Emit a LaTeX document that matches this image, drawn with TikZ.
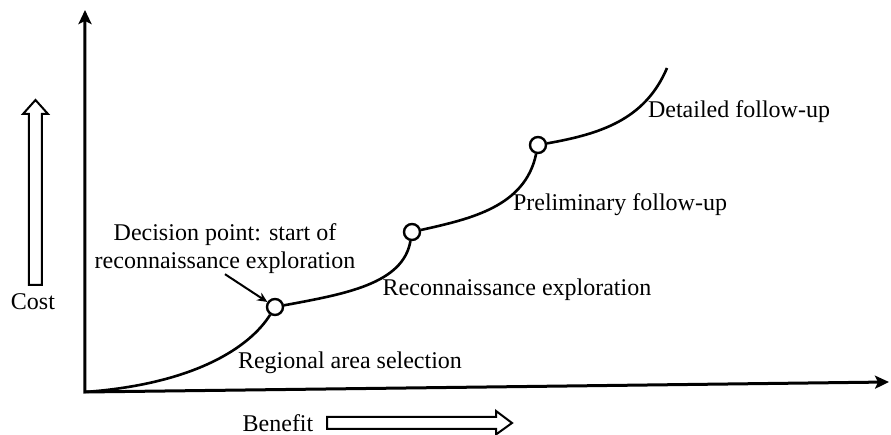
\documentclass[tikz,border=0pt]{standalone}
\usepackage{fontspec}
\setmainfont{Liberation Serif}
\usetikzlibrary{arrows.meta}

\begin{document}
\begin{tikzpicture}[x=1pt, y=1pt,
    axis/.style={line width=3pt, {Stealth[length=14pt,width=13pt,inset=3pt]}-{Stealth[length=14pt,width=13pt,inset=3pt]}},
    phase/.style={line width=2.6pt},
    milestone/.style={circle, draw, line width=2.4pt, fill=white, inner sep=0pt, minimum size=16pt},
    lbl/.style={font=\fontsize{24}{28}\selectfont, inner sep=0pt},
    bigarrow/.style={draw, line width=2pt, fill=white, line join=miter}]

      \useasboundingbox (-85,-43) rectangle (806,392);

      % Axes
      \coordinate (o) at (0,0);
      \coordinate (ytip) at (0,382);
      \coordinate (xtip) at (804,10);
      \draw[axis] (ytip) -- (o) -- (xtip);

      % Decision points on the curve
      \node[milestone] (c1) at (190,85) {};
      \node[milestone] (c2) at (327,160) {};
      \node[milestone] (c3) at (453,247) {};
      \coordinate (top) at (582,324);

      % Cost curve
      \draw[phase] (o) .. controls (110,8) and (165,45) .. (c1);
      \draw[phase] (c1) .. controls (260,98) and (318,108) .. (c2);
      \draw[phase] (c2) .. controls (385,173) and (440,185) .. (c3);
      \draw[phase] (c3) .. controls (515,258) and (560,272) .. (top);

      % Stage labels
      \node[lbl] (regional) at (265,29) {Regional area selection};
      \node[lbl] (recon) at (432,102) {Reconnaissance exploration};
      \node[lbl] (prelim) at (535,187) {Preliminary follow-up};
      \node[lbl] (detailed) at (654,280) {Detailed follow-up};

      % Decision point
      \node[lbl, align=center] (decision) at (140,143) {Decision point: start of\\reconnaissance exploration};
      \draw[line width=2pt, -{Stealth[length=10pt,width=9pt]}] (decision.south) -- (c1);

      % Axis labels
      \node[lbl] (cost) at (-52,90) {Cost};
      \draw[bigarrow] (-56,107) -- (-43,107) -- (-43,278) -- (-37,278) -- (-49.5,292) -- (-62,278) -- (-56,278) -- cycle;
      \node[lbl] (benefit) at (193,-31) {Benefit};
      \draw[bigarrow] (242,-25) -- (411,-25) -- (411,-19) -- (427,-31) -- (411,-42.5) -- (411,-37) -- (242,-37) -- cycle;

\end{tikzpicture}
\end{document}
